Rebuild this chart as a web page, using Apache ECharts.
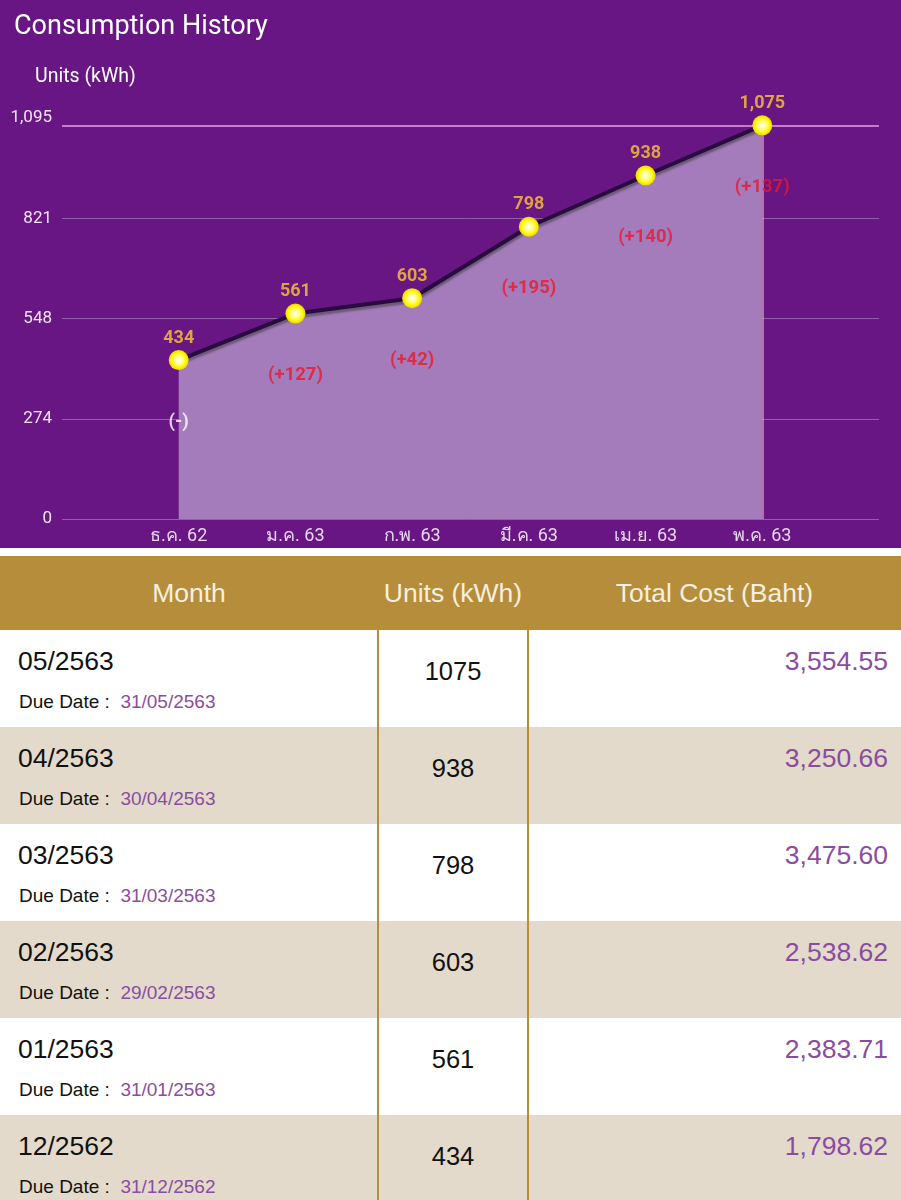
<!DOCTYPE html>
<html>
<head>
<meta charset="utf-8">
<script src="https://cdn.jsdelivr.net/npm/echarts@6/dist/echarts.min.js"></script>
<style>
  html, body { margin: 0; padding: 0; background: #ffffff; width: 901px; overflow: hidden; }
  #chart { width: 901px; height: 548px; }
  #gap { height: 8px; background: #ffffff; }
  table { border-collapse: collapse; width: 901px; table-layout: fixed; font-family: "Liberation Sans", Arial, sans-serif; }
  th { background: #B58D3B; color: #F7F0E0; font-weight: normal; font-size: 26.5px; height: 74px; padding: 0; }
  td { height: 97px; padding: 0; vertical-align: top; }
  tr.odd td { background: #FFFFFF; }
  tr.even td { background: #E3DACB; }
  td.c2 { border-left: 2px solid #B58D3B; border-right: 2px solid #B58D3B; text-align: center; font-size: 25.5px; line-height: 30px; color: #111; }
  td.c2 div { margin-top: 26px; }
  td.c1 .m { font-size: 26.5px; line-height: 30px; color: #111; margin: 16px 0 0 18px; }
  td.c1 .d { font-size: 19px; line-height: 22px; color: #111; margin: 15px 0 0 19px; }
  td.c1 .d span { color: #8A4E9E; }
  td.c3 { text-align: right; font-size: 26.5px; line-height: 30px; color: #8A4C9F; }
  td.c3 div { margin: 16px 13px 0 0; }
</style>
</head>
<body>
<div id="chart"></div>
<div id="gap"></div>
<table id="tbl">
  <colgroup><col style="width:378px"><col style="width:150px"><col style="width:373px"></colgroup>
  <thead><tr><th>Month</th><th>Units (kWh)</th><th>Total Cost (Baht)</th></tr></thead>
  <tbody id="tbody"></tbody>
</table>
<script>
// ---- chart data ----
const months = ['ธ.ค. 62', 'ม.ค. 63', 'ก.พ. 63', 'มี.ค. 63', 'เม.ย. 63', 'พ.ค. 63'];
const units = [434, 561, 603, 798, 938, 1075];
const diffs = [null, 127, 42, 195, 140, 137];
const yMax = 1095;
const yTickCount = 4;

// ---- table data ----
const billMonths = ['05/2563', '04/2563', '03/2563', '02/2563', '01/2563', '12/2562'];
const dueDates = ['31/05/2563', '30/04/2563', '31/03/2563', '29/02/2563', '31/01/2563', '31/12/2562'];
const billUnits = [1075, 938, 798, 603, 561, 434];
const costs = ['3,554.55', '3,250.66', '3,475.60', '2,538.62', '2,383.71', '1,798.62'];

// build table
const tbody = document.getElementById('tbody');
billMonths.forEach((m, i) => {
  const tr = document.createElement('tr');
  tr.className = i % 2 === 0 ? 'odd' : 'even';
  tr.innerHTML =
    '<td class="c1"><div class="m">' + m + '</div><div class="d">Due Date :&nbsp; <span>' + dueDates[i] + '</span></div></td>' +
    '<td class="c2"><div>' + billUnits[i] + '</div></td>' +
    '<td class="c3"><div>' + costs[i] + '</div></td>';
  tbody.appendChild(tr);
});

const fmt = v => Math.round(v).toLocaleString('en-US');
const pts = units.map((v, i) => [i + 1, v]);
const diffPts = units.map((v, i) => ({
  value: [i + 1, v],
  label: {
    formatter: diffs[i] === null ? '(-)' : '(+' + diffs[i] + ')',
    color: diffs[i] === null ? '#FFFFFF' : '#E8182E'
  }
}));
const gridCol = 'rgba(255,255,255,0.3)';

const chart = echarts.init(document.getElementById('chart'));
chart.setOption({
  backgroundColor: '#671683',
  animation: false,
  title: [
    { text: 'Consumption History', left: 9, top: 9, textStyle: { color: '#FFFFFF', fontSize: 27, fontWeight: 'normal', fontFamily: 'Roboto' } },
    { text: 'Units (kWh)', left: 30, top: 62, textStyle: { color: '#FFFFFF', fontSize: 19.5, fontWeight: 'normal', fontFamily: 'Roboto' } }
  ],
  grid: { left: 62, right: 22, top: 118, bottom: 29 },
  xAxis: {
    type: 'value', min: 0, max: months.length + 1, interval: 1,
    axisLine: { show: false }, axisTick: { show: false }, splitLine: { show: false },
    axisLabel: {
      color: '#E8D8EE', fontSize: 18, fontFamily: 'Roboto', margin: 8,
      showMinLabel: false, showMaxLabel: false,
      formatter: v => months[v - 1] || ''
    }
  },
  yAxis: {
    type: 'value', min: 0, max: yMax, interval: yMax / yTickCount,
    axisLine: { show: false }, axisTick: { show: false },
    axisLabel: { color: '#F2E6F4', fontSize: 17, fontFamily: 'Roboto', margin: 10, formatter: fmt },
    splitLine: { lineStyle: { width: 1, color: [gridCol, gridCol, gridCol, gridCol, 'rgba(0,0,0,0)'] } }
  },
  series: [
    {
      type: 'line', data: pts, z: 3,
      symbol: 'circle', symbolSize: 20,
      lineStyle: { color: '#2A0A40', width: 4, shadowColor: 'rgba(90,80,100,0.8)', shadowOffsetY: 3, shadowBlur: 2 },
      areaStyle: { color: '#A57CBB', opacity: 1 },
      itemStyle: {
        color: new echarts.graphic.RadialGradient(0.5, 0.5, 0.5, [
          { offset: 0, color: '#FFFFF5' }, { offset: 0.35, color: '#FFFF9A' }, { offset: 0.75, color: '#FFF500' }, { offset: 1, color: '#E8D800' }
        ]),
        borderWidth: 0
      },
      label: {
        show: true, position: 'top', distance: 3,
        color: '#E0A246', fontSize: 18, fontWeight: 'bold', fontFamily: 'Roboto',
        formatter: p => fmt(p.value[1])
      },
      markLine: {
        silent: true, symbol: 'none', label: { show: false }, z: 2,
        data: [
          { yAxis: units[units.length - 1], lineStyle: { color: '#C77CC6', type: 'solid', width: 2 } },
          [{ coord: [months.length, 0], lineStyle: { color: 'rgba(240,170,200,0.8)', type: 'solid', width: 1.5 } }, { coord: [months.length, units[units.length - 1]] }]
        ]
      }
    },
    {
      type: 'scatter', data: diffPts, symbolSize: 1, z: 4,
      itemStyle: { color: 'rgba(0,0,0,0)' },
      label: { show: true, position: 'inside', offset: [0, 62], fontSize: 18.5, fontWeight: 'bold', fontFamily: 'Roboto' }
    }
  ]
});
</script>
</body>
</html>
